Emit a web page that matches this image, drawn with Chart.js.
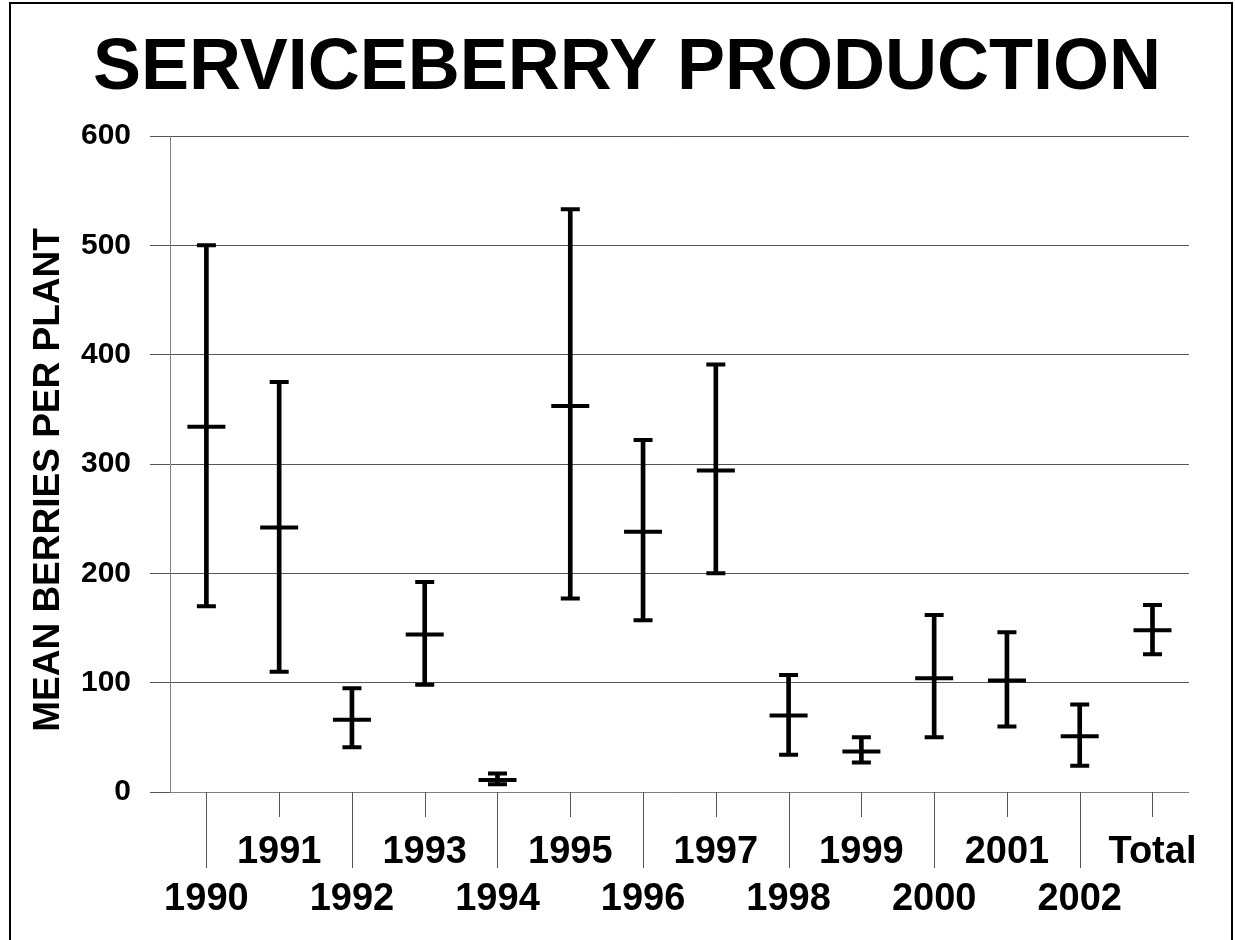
<!DOCTYPE html>
<html>
<head>
<meta charset="utf-8">
<title>Serviceberry production</title>
<script src="https://cdn.jsdelivr.net/npm/chart.js@4/dist/chart.umd.min.js"></script>
<style>
  body { margin: 0; background: #fff; }
</style>
</head>
<body>
<canvas id="myChart" width="1235" height="940"></canvas>
<script>
// berries per plant, by year
const years = ['1990', '1991', '1992', '1993', '1994', '1995', '1996', '1997',
               '1998', '1999', '2000', '2001', '2002', 'Total'];
const means = [334, 242, 66, 144, 11, 353, 238, 294, 70, 37, 104, 102, 51, 148];
const highs = [500, 375, 95, 192, 17, 533, 322, 391, 107, 50, 162, 146, 80, 171];
const lows  = [170, 110, 41, 98, 7, 177, 157, 200, 34, 27, 50, 60, 24, 126];
const yTicks = [0, 100, 200, 300, 400, 500, 600];

const FONT = "'Liberation Sans', Arial, sans-serif";
Chart.defaults.font.family = FONT;
Chart.defaults.color = '#000';

// tick marks hanging under the category axis, long ones between the upper labels
const categoryTicks = {
    id: 'categoryTicks',
    afterDraw(chart) {
        const ctx = chart.ctx;
        const x = chart.scales.x;
        ctx.save();
        ctx.strokeStyle = '#555';
        ctx.lineWidth = 1;
        years.forEach((y, i) => {
            const px = Math.round(x.getPixelForTick(i)) + 0.5;
            ctx.beginPath();
            ctx.moveTo(px, x.top);
            ctx.lineTo(px, x.top + (i % 2 === 0 ? 76 : 25));
            ctx.stroke();
        });
        ctx.restore();
    }
};

// y axis title, sitting a little below the middle of the axis
const yTitle = {
    id: 'yTitle',
    afterDraw(chart) {
        const ctx = chart.ctx;
        const area = chart.chartArea;
        ctx.save();
        ctx.translate(49, (area.top + area.bottom) / 2 + 16);
        ctx.rotate(-Math.PI / 2);
        ctx.font = 'bold 37px ' + FONT;
        ctx.fillStyle = '#000';
        ctx.textAlign = 'center';
        ctx.textBaseline = 'middle';
        ctx.fillText('MEAN BERRIES PER PLANT', 0, 0);
        ctx.restore();
    }
};

// outer frame
const frame = {
    id: 'frame',
    afterDraw(chart) {
        const ctx = chart.ctx;
        ctx.save();
        ctx.strokeStyle = '#000';
        ctx.lineWidth = 2;
        ctx.strokeRect(10, 3, 1222, 1000);
        ctx.restore();
    }
};

const capStyle = {
    type: 'line',
    showLine: false,
    pointStyle: 'line',
    pointRadius: 9.5,
    pointBorderWidth: 4,
    borderColor: '#000',
    pointBorderColor: '#000'
};

const myChart = new Chart(document.getElementById('myChart'), {
    data: {
        labels: years,
        datasets: [{
            type: 'bar',
            data: lows.map((lo, i) => [lo, highs[i]]),
            backgroundColor: '#000',
            barThickness: 4
        }, {
            type: 'line',
            data: means,
            showLine: false,
            pointStyle: 'line',
            pointRadius: 19,
            pointBorderWidth: 4,
            borderColor: '#000',
            pointBorderColor: '#000'
        },
        Object.assign({ data: highs }, capStyle),
        Object.assign({ data: lows }, capStyle)]
    },
    options: {
        responsive: false,
        devicePixelRatio: 1,
        animation: false,
        events: [],
        layout: { padding: { left: 19, right: 0, top: 0, bottom: 0 } },
        plugins: {
            legend: { display: false },
            tooltip: { enabled: false },
            title: {
                display: true,
                text: 'SERVICEBERRY PRODUCTION',
                color: '#000',
                font: { size: 72, weight: 'bold' },
                padding: { top: 26, bottom: 23.6 }
            }
        },
        scales: {
            x: {
                offset: true,
                grid: { display: false, drawTicks: false },
                border: { display: true, color: '#808080', width: 1 },
                ticks: {
                    autoSkip: false,
                    maxRotation: 0,
                    minRotation: 0,
                    padding: 37,
                    font: { size: 38, weight: 'bold', lineHeight: 1.24 },
                    callback: (v, i) => i % 2 === 0 ? ['', years[i]] : [years[i], '']
                },
                afterFit: (scale) => { scale.height = 148; }
            },
            y: {
                min: 0,
                max: 600,
                afterBuildTicks: (scale) => { scale.ticks = yTicks.map(v => ({ value: v })); },
                grid: { color: '#555', lineWidth: 1, tickLength: 20 },
                border: { color: '#808080', width: 1 },
                ticks: {
                    padding: 19,
                    font: { size: 30, weight: 'bold' }
                },
                afterFit: (scale) => { scale.width = 151; }
            },
            // empty right-hand strip so the plot ends short of the frame
            yRight: {
                position: 'right',
                min: 0,
                max: 600,
                grid: { display: false, drawTicks: false },
                border: { display: false },
                ticks: { display: false },
                afterFit: (scale) => { scale.width = 43; }
            }
        }
    },
    plugins: [categoryTicks, yTitle, frame]
});
</script>
</body>
</html>
